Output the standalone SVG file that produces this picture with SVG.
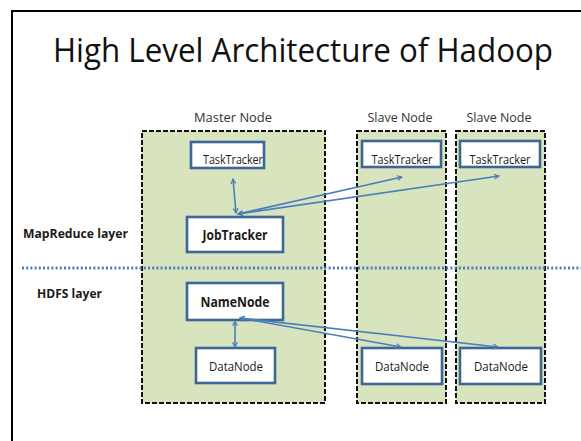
<svg xmlns="http://www.w3.org/2000/svg" width="581" height="441" viewBox="0 0 581 441">
  <style>
    .frame { fill: none; stroke: #000; stroke-width: 2; }
    .node-area { fill: #d7e4bd; stroke: #111; stroke-width: 2; stroke-dasharray: 5 2; }
    .box { fill: #fff; stroke: #3d6597; stroke-width: 2.6; }
    .link { fill: none; stroke: #4a7ebb; stroke-width: 1.6; marker-start: url(#tip); marker-end: url(#tip); }
    .divider { stroke: #4a7ebb; stroke-width: 3; stroke-dasharray: 2 2.2; }
    text { font-family: "Open Sans", "Liberation Sans", sans-serif; fill: #1a1a1a; }
    .title { font-size: 33px; fill: #111; }
    .caption { font-size: 13px; text-anchor: middle; fill: #333; }
    .label { font-size: 12.5px; text-anchor: middle; }
    .label-b { font-size: 13.5px; font-weight: bold; text-anchor: middle; }
    .layer { font-size: 12px; font-weight: bold; }
  </style>
  <defs>
    <marker id="tip" viewBox="0 0 10 10" refX="9" refY="5" markerWidth="6" markerHeight="6" orient="auto-start-reverse" markerUnits="userSpaceOnUse">
      <path d="M1,1 L9,5 L1,9" fill="none" stroke="#4a7ebb" stroke-width="2"/>
    </marker>
  </defs>

  <rect width="581" height="441" fill="#fff"/>

  <!-- slide frame: left and top edges only, the rest runs off the page -->
  <path class="frame" d="M12,441 L12,11 L581,11"/>

  <text class="title" x="53" y="62" textLength="500" lengthAdjust="spacingAndGlyphs">High Level Architecture of Hadoop</text>

  <!-- machine columns -->
  <g id="master-node">
    <rect class="node-area" x="142" y="131" width="183" height="272"/>
    <text class="caption" x="233" y="122" textLength="78" lengthAdjust="spacingAndGlyphs">Master Node</text>
  </g>
  <g id="slave-node-1">
    <rect class="node-area" x="357" y="131" width="89" height="272"/>
    <text class="caption" x="400" y="122" textLength="65" lengthAdjust="spacingAndGlyphs">Slave Node</text>
  </g>
  <g id="slave-node-2">
    <rect class="node-area" x="456" y="131" width="89" height="272"/>
    <text class="caption" x="499" y="122" textLength="65" lengthAdjust="spacingAndGlyphs">Slave Node</text>
  </g>

  <!-- layer divider -->
  <line class="divider" x1="22" y1="268" x2="581" y2="268"/>
  <text class="layer" x="23" y="238" textLength="105" lengthAdjust="spacingAndGlyphs">MapReduce layer</text>
  <text class="layer" x="37" y="298" textLength="65" lengthAdjust="spacingAndGlyphs">HDFS layer</text>

  <!-- MapReduce services -->
  <g id="master-tasktracker">
    <rect class="box" x="191" y="142" width="73" height="26"/>
    <text class="label" x="233" y="164" textLength="60" lengthAdjust="spacingAndGlyphs">TaskTracker</text>
  </g>
  <g id="jobtracker">
    <rect class="box" x="187" y="217" width="96" height="35"/>
    <text class="label-b" x="235" y="240" textLength="65" lengthAdjust="spacingAndGlyphs">JobTracker</text>
  </g>
  <g id="slave1-tasktracker">
    <rect class="box" x="362" y="141" width="79" height="26"/>
    <text class="label" x="402" y="164" textLength="61" lengthAdjust="spacingAndGlyphs">TaskTracker</text>
  </g>
  <g id="slave2-tasktracker">
    <rect class="box" x="460" y="141" width="80" height="26"/>
    <text class="label" x="500" y="164" textLength="61" lengthAdjust="spacingAndGlyphs">TaskTracker</text>
  </g>

  <!-- HDFS services -->
  <g id="namenode">
    <rect class="box" x="187" y="283" width="96" height="37"/>
    <text class="label-b" x="235" y="307" textLength="69" lengthAdjust="spacingAndGlyphs">NameNode</text>
  </g>
  <g id="master-datanode">
    <rect class="box" x="196" y="348" width="79" height="35"/>
    <text class="label" x="236" y="371" textLength="54" lengthAdjust="spacingAndGlyphs">DataNode</text>
  </g>
  <g id="slave1-datanode">
    <rect class="box" x="362" y="348" width="80" height="36"/>
    <text class="label" x="402" y="371" textLength="54" lengthAdjust="spacingAndGlyphs">DataNode</text>
  </g>
  <g id="slave2-datanode">
    <rect class="box" x="460" y="348" width="81" height="36"/>
    <text class="label" x="501" y="371" textLength="54" lengthAdjust="spacingAndGlyphs">DataNode</text>
  </g>

  <!-- connectors -->
  <g id="connectors">
    <line class="link" x1="233" y1="179" x2="236" y2="213"/>
    <line class="link" x1="238" y1="214" x2="402" y2="177"/>
    <line class="link" x1="238" y1="214" x2="499" y2="176"/>
    <line class="link" x1="235" y1="321" x2="235" y2="347"/>
    <line class="link" x1="240" y1="318" x2="401" y2="347"/>
    <line class="link" x1="240" y1="318" x2="498" y2="347"/>
  </g>
</svg>
